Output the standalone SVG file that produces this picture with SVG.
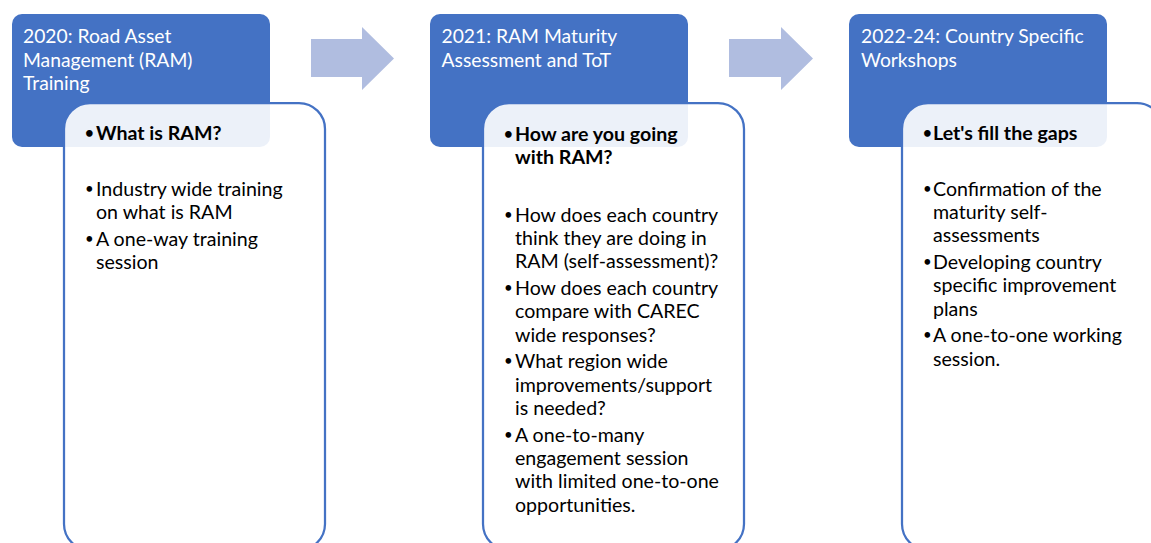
<svg xmlns="http://www.w3.org/2000/svg" width="1151" height="543" viewBox="0 0 1151 543">
<style>
.hdr{fill:#4472C4}
.card{fill:#FFFFFF;fill-opacity:0.9;stroke:#4472C4;stroke-width:2.25}
.arrow{fill:#B0BDE0}
.title{font-family:Lato,"Liberation Sans",sans-serif;font-size:19.3px;fill:#FFFFFF}
.body{font-family:Lato,"Liberation Sans",sans-serif;font-size:19.6px;fill:#000000}
.bold{font-weight:bold}
.bul{font-size:15px}
</style>
<rect width="1151" height="543" fill="#FFFFFF"/>
<g id="connectors">
<polygon class="arrow" points="311,39 362,39 362,27 394,58.5 362,90 362,77 311,77"/>
<polygon class="arrow" points="729,39 781,39 781,27 813,58.5 781,90 781,77 729,77"/>
</g>
<g id="node-2020">
<rect class="hdr" x="12" y="14" width="258" height="133" rx="10"/>
<text class="title" x="23"><tspan x="23" y="43">2020: Road Asset</tspan><tspan x="23" y="67">Management (RAM)</tspan><tspan x="23" y="90">Training</tspan></text>
<rect class="card" x="64" y="103" width="261" height="447" rx="26"/>
<text class="body bold"><tspan class="bul" x="85" y="138">•</tspan><tspan x="96" y="140">What is RAM?</tspan></text>
<text class="body"><tspan class="bul" x="85" y="194">•</tspan><tspan x="96" y="196">Industry wide training</tspan><tspan x="96" y="219.3">on what is RAM</tspan><tspan class="bul" x="85" y="244">•</tspan><tspan x="96" y="246">A one-way training</tspan><tspan x="96" y="269.3">session</tspan></text>
</g>
<g id="node-2021">
<rect class="hdr" x="430" y="14" width="258" height="133" rx="10"/>
<text class="title"><tspan x="441.5" y="43">2021: RAM Maturity</tspan><tspan x="441.5" y="67">Assessment and ToT</tspan></text>
<rect class="card" x="483" y="103" width="261" height="447" rx="26"/>
<text class="body bold"><tspan class="bul" x="504" y="139">•</tspan><tspan x="515" y="141">How are you going</tspan><tspan x="515" y="164">with RAM?</tspan></text>
<text class="body"><tspan class="bul" x="504" y="219.7">•</tspan><tspan x="515" y="221.7">How does each country</tspan><tspan x="515" y="245">think they are doing in</tspan><tspan x="515" y="268.3">RAM (self-assessment)?</tspan><tspan class="bul" x="504" y="293">•</tspan><tspan x="515" y="295">How does each country</tspan><tspan x="515" y="318.3">compare with CAREC</tspan><tspan x="515" y="341.7">wide responses?</tspan><tspan class="bul" x="504" y="366.3">•</tspan><tspan x="515" y="368.3">What region wide</tspan><tspan x="515" y="391.7">improvements/support</tspan><tspan x="515" y="415">is needed?</tspan><tspan class="bul" x="504" y="439.7">•</tspan><tspan x="515" y="441.7">A one-to-many</tspan><tspan x="515" y="465">engagement session</tspan><tspan x="515" y="488.3">with limited one-to-one</tspan><tspan x="515" y="511.7">opportunities.</tspan></text>
</g>
<g id="node-2022">
<rect class="hdr" x="849" y="14" width="258" height="133" rx="10"/>
<text class="title"><tspan x="861" y="43">2022-24: Country Specific</tspan><tspan x="861" y="67">Workshops</tspan></text>
<rect class="card" x="902" y="103" width="261" height="447" rx="26"/>
<text class="body bold"><tspan class="bul" x="923" y="138">•</tspan><tspan x="933" y="140">Let's fill the gaps</tspan></text>
<text class="body"><tspan class="bul" x="923" y="193.7">•</tspan><tspan x="933" y="195.7">Confirmation of the</tspan><tspan x="933" y="219">maturity self-</tspan><tspan x="933" y="242.3">assessments</tspan><tspan class="bul" x="923" y="267">•</tspan><tspan x="933" y="269">Developing country</tspan><tspan x="933" y="292.3">specific improvement</tspan><tspan x="933" y="315.7">plans</tspan><tspan class="bul" x="923" y="340.3">•</tspan><tspan x="933" y="342.3">A one-to-one working</tspan><tspan x="933" y="365.7">session.</tspan></text>
</g>
</svg>
